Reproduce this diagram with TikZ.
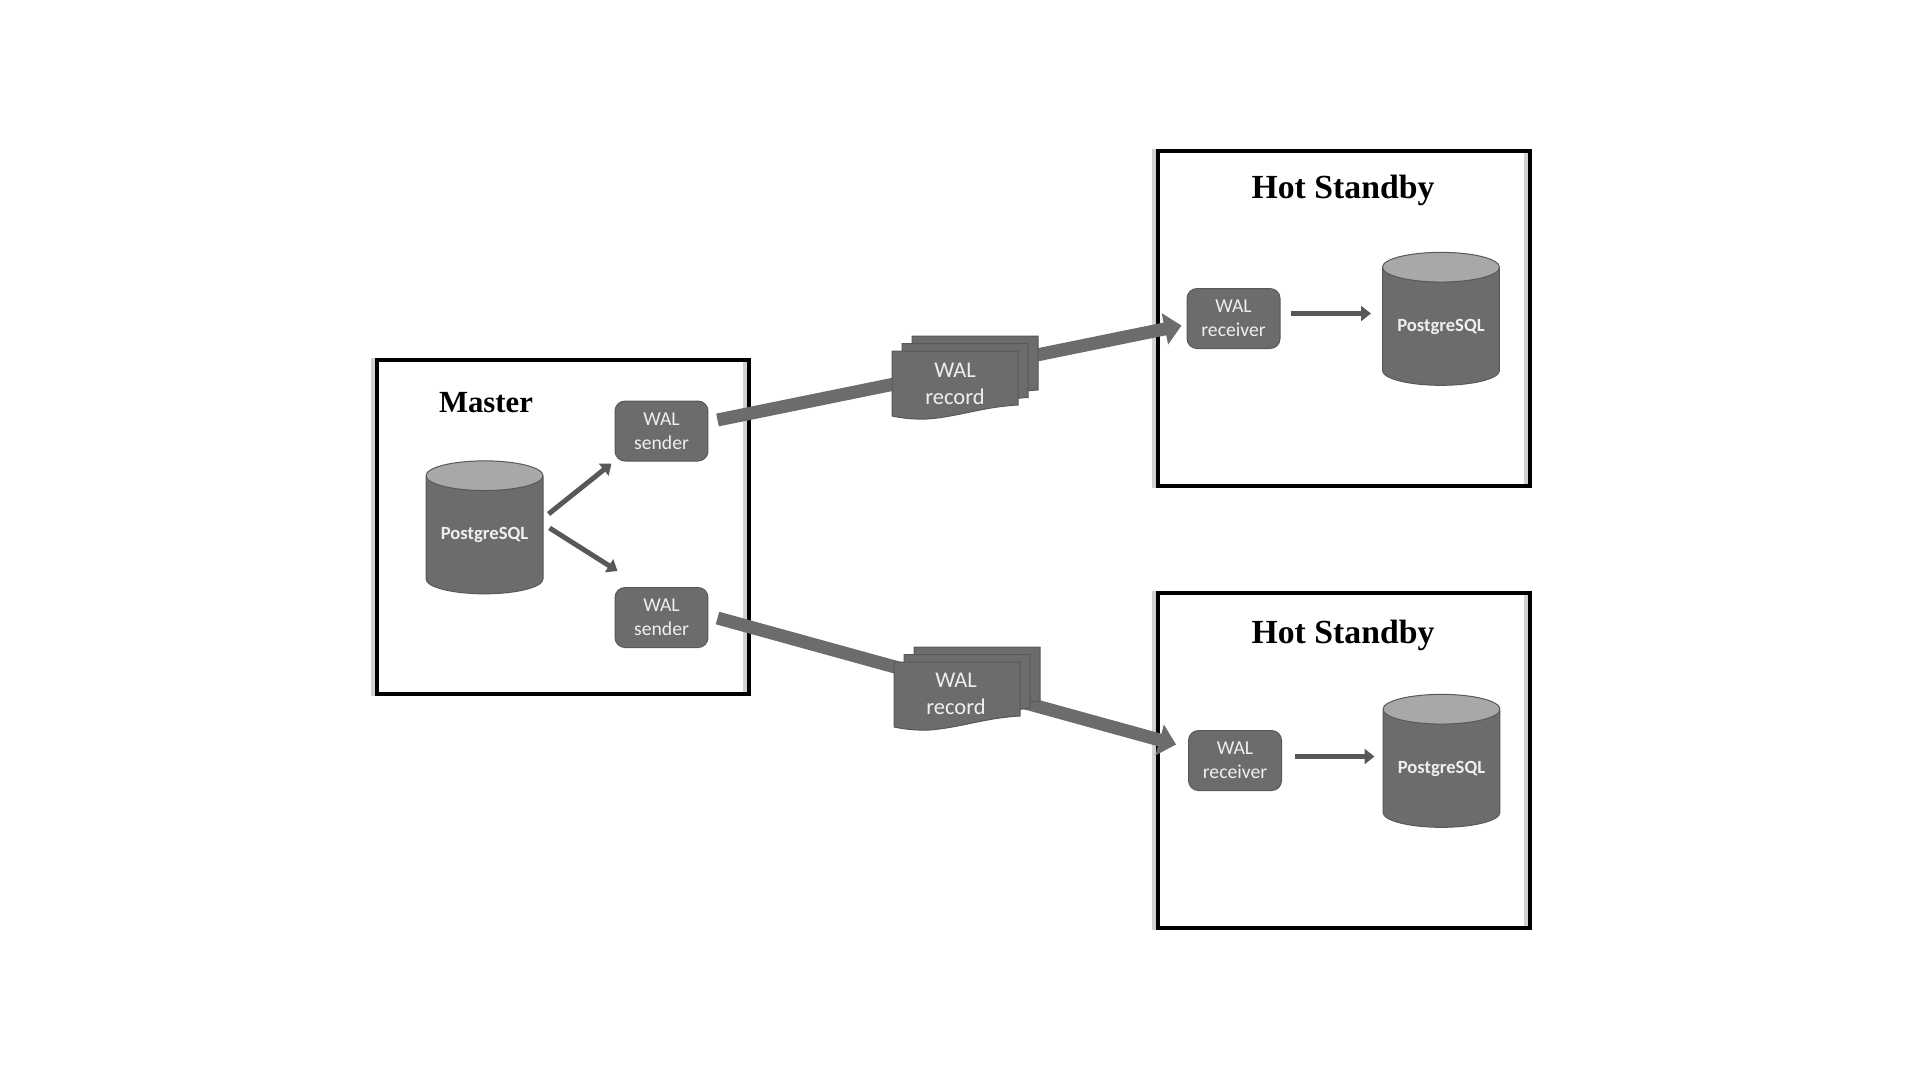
\documentclass[tikz,border=0pt]{standalone}
\usepackage{fontspec}
\setmainfont{Liberation Serif}
\newfontfamily\boxfont{Carlito}
\usetikzlibrary{shapes, arrows.meta}
\definecolor{boxgray}{HTML}{6C6C6C}
\definecolor{edgegray}{HTML}{585858}
\definecolor{capgray}{HTML}{A8A8A8}
\definecolor{textgray}{HTML}{EFEFEF}
\tikzstyle{frame} =
        [
                rectangle,
                draw = black,
                line width = 0.08cm,
                minimum width = 7.44cm,
                minimum height = 6.7cm,
                preaction = {draw = black!18, line width = 0.08cm, transform canvas = {xshift = -0.08cm}}
        ]
\tikzstyle{title} =
        [
                font = \fontsize{19.2}{22}\selectfont\bfseries
        ]
\tikzstyle{walbox} =
        [
                rectangle,
                draw = edgegray,
                fill = boxgray,
                line width = 0.02cm,
                rounded corners = 0.2cm,
                minimum width = 1.86cm,
                minimum height = 1.2cm,
                inner sep = 0pt,
                align = center,
                text = textgray,
                font = \boxfont\fontsize{11.2}{13.4}\selectfont
        ]
\tikzstyle{database} =
        [
                cylinder,
                shape border rotate = 90,
                aspect = 0.34,
                draw = edgegray,
                line width = 0.02cm,
                cylinder uses custom fill,
                cylinder body fill = boxgray,
                cylinder end fill = capgray,
                minimum width = 2.34cm,
                minimum height = 2.66cm,
                inner sep = 0pt,
                yshift = -0.16cm,
                text = textgray,
                font = \boxfont\bfseries\fontsize{10.6}{13}\selectfont
        ]
\tikzstyle{thinline} =
        [
                draw = edgegray,
                line width = 0.1cm,
                -{Triangle[length = 0.2cm, width = 0.3cm]}
        ]
\tikzstyle{wideline} =
        [
                draw = boxgray,
                line width = 0.26cm,
                -{Triangle[length = 0.34cm, width = 0.62cm]}
        ]
\tikzstyle{recordtext} =
        [
                align = center,
                inner sep = 0pt,
                text = textgray,
                font = \boxfont\fontsize{12.8}{15.4}\selectfont
        ]
\tikzset{
        sheet/.pic = {
                \draw [draw = edgegray, fill = boxgray, line width = 0.02cm]
                        (0,0) -- (126,0) -- (126,54)
                        .. controls (90,56) and (65,66) .. (35,68)
                        .. controls (20,68.5) and (10,67) .. (0,65) -- cycle;
        }
}
\begin{document}
\begin{tikzpicture}[x = 0.02cm, y = -0.02cm]
	\useasboundingbox (0,0) rectangle (1920,1080);
	\node [frame] (frameMaster) at (563,527) {};
	\node [frame] (frameUpper) at (1344,318.5) {};
	\node [frame] (frameLower) at (1344,760.5) {};
	\node [title, font = \fontsize{17.5}{20}\selectfont\bfseries] (titleMaster) at (486,403) {Master};
	\node [title] (titleUpper) at (1343,190) {Hot Standby};
	\node [title] (titleLower) at (1343,635) {Hot Standby};
	\node [database, left of = frameMaster, node distance = 1.57cm] (dbMaster) {PostgreSQL};
	\node [walbox] (senderA) at (661.5,431) {WAL\\sender};
	\node [walbox] (senderB) at (661.5,617.5) {WAL\\sender};
	\node [walbox, left of = frameUpper, node distance = 2.21cm] (receiverA) {WAL\\receiver};
	\node [database, right of = receiverA, node distance = 4.15cm] (dbA) {PostgreSQL};
	\node [walbox, left of = frameLower, node distance = 2.18cm] (receiverB) {WAL\\receiver};
	\node [database, right of = receiverB, node distance = 4.13cm] (dbB) {PostgreSQL};
	\path [thinline] ([shift = {(5,-21)}]dbMaster.east) -- ([shift = {(-3,2)}]senderA.south west);
	\path [thinline] ([shift = {(6,-7)}]dbMaster.east) -- ([shift = {(3,-16)}]senderB.north west);
	\path [thinline] ([xshift = 0.2cm, yshift = 0.26cm]receiverA.east |- dbA.west) -- ([xshift = -0.22cm, yshift = 0.26cm]dbA.west);
	\path [thinline] ([xshift = 0.26cm, yshift = 0.24cm]receiverB.east |- dbB.west) -- ([xshift = -0.16cm, yshift = 0.24cm]dbB.west);
	\path [wideline] ([shift = {(9,-11)}]senderA.east) -- ([shift = {(-5,7)}]receiverA.west);
	\path [wideline] ([shift = {(9,0.5)}]senderB.east) -- ([shift = {(-12,-16)}]receiverB.west);
	\path (912,336) pic {sheet};
	\path (902,343.5) pic {sheet};
	\path (892,351) pic {sheet};
	\node [recordtext] (recordA) at (955,384) {WAL\\record};
	\path (914,647) pic {sheet};
	\path (904,654.5) pic {sheet};
	\path (894,662) pic {sheet};
	\node [recordtext] (recordB) at (956,694) {WAL\\record};
\end{tikzpicture}
\end{document}
